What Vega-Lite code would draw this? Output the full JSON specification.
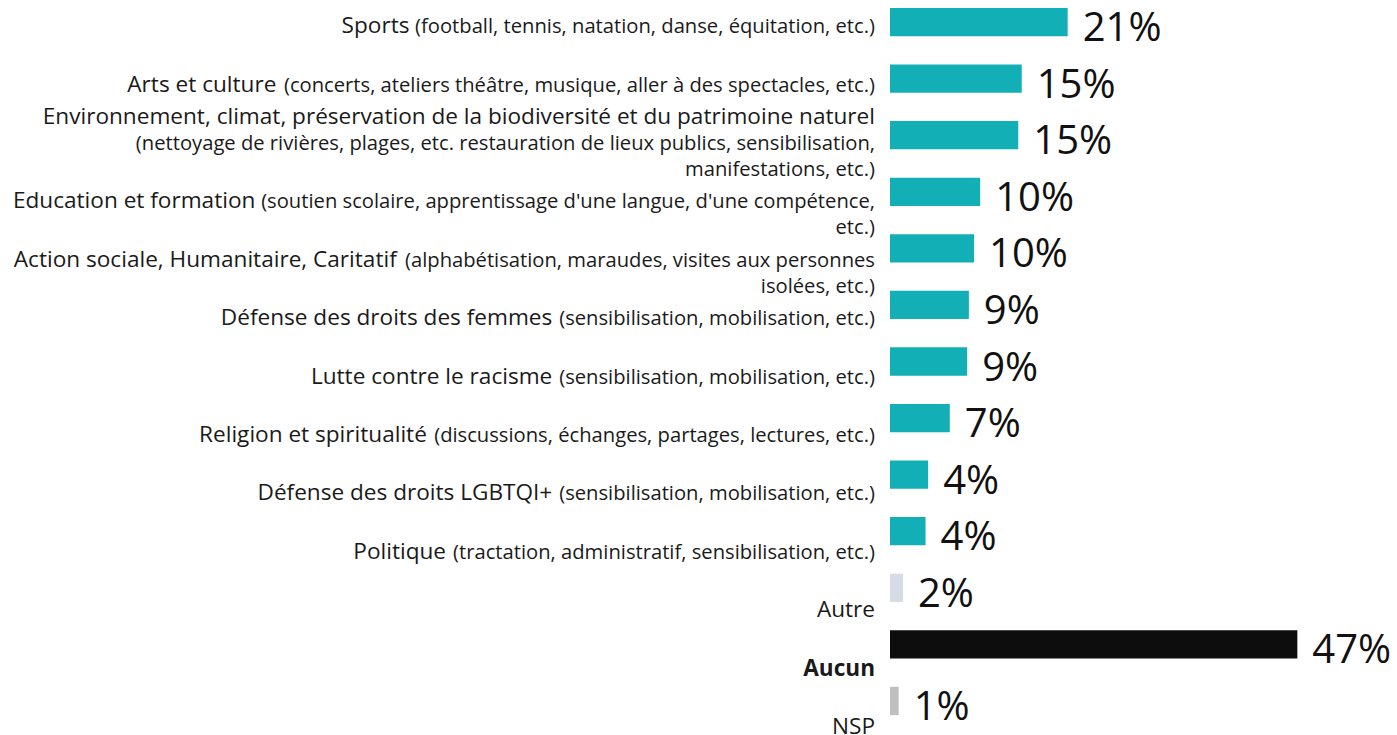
{
  "$schema": "https://vega.github.io/schema/vega-lite/v6.json",
  "autosize": "none",
  "width": 507,
  "height": 723,
  "padding": {"left": 890, "top": 0, "right": 0, "bottom": 12},
  "background": "white",
  "config": {"view": {"stroke": null}, "font": "Open Sans"},
  "data": {
    "values": [
      {"main": "Sports", "note": ["(football, tennis, natation, danse, équitation, etc.)"], "value": 20.5, "pct": "21%"},
      {"main": "Arts et culture", "note": ["(concerts, ateliers théâtre, musique, aller à des spectacles, etc.)"], "value": 15.2, "pct": "15%"},
      {"main": "Environnement, climat, préservation de la biodiversité et du patrimoine naturel", "note": ["(nettoyage de rivières, plages, etc. restauration de lieux publics, sensibilisation,", "manifestations, etc.)"], "value": 14.8, "pct": "15%"},
      {"main": "Education et formation", "note": ["(soutien scolaire, apprentissage d'une langue, d'une compétence,", "etc.)"], "value": 10.4, "pct": "10%"},
      {"main": "Action sociale, Humanitaire, Caritatif", "note": ["(alphabétisation, maraudes, visites aux personnes", "isolées, etc.)"], "value": 9.7, "pct": "10%"},
      {"main": "Défense des droits des femmes", "note": ["(sensibilisation, mobilisation, etc.)"], "value": 9.1, "pct": "9%"},
      {"main": "Lutte contre le racisme", "note": ["(sensibilisation, mobilisation, etc.)"], "value": 8.9, "pct": "9%"},
      {"main": "Religion et spiritualité", "note": ["(discussions, échanges, partages, lectures, etc.)"], "value": 6.9, "pct": "7%"},
      {"main": "Défense des droits LGBTQI+", "note": ["(sensibilisation, mobilisation, etc.)"], "value": 4.4, "pct": "4%"},
      {"main": "Politique", "note": ["(tractation, administratif, sensibilisation, etc.)"], "value": 4.1, "pct": "4%"},
      {"main": "Autre", "note": [], "value": 1.5, "pct": "2%"},
      {"main": "Aucun", "note": [], "value": 47.0, "pct": "47%"},
      {"main": "NSP", "note": [], "value": 1.0, "pct": "1%"}
    ]
  },
  "resolve": {"scale": {"y": "independent"}},
  "layer": [
    {
      "mark": {"type": "bar"},
      "encoding": {
        "y": {"field": "main", "type": "nominal", "sort": null, "axis": null, "scale": {"type": "band", "paddingInner": 0.5, "paddingOuter": 0.14}},
        "x": {"field": "value", "type": "quantitative", "axis": null, "scale": {"domain": [0, 58.5], "nice": false, "zero": true}},
        "color": {
          "condition": [
            {"test": "datum.main === 'Aucun'", "value": "#0D0D0D"},
            {"test": "datum.main === 'Autre'", "value": "#D6DCE5"},
            {"test": "datum.main === 'NSP'", "value": "#BFBFBF"}
          ],
          "value": "#13AFB7"
        }
      }
    },
    {
      "mark": {"type": "text", "align": "left", "baseline": "alphabetic", "dx": 15, "dy": 19, "fontSize": 40, "color": "#111111"},
      "encoding": {
        "y": {"field": "main", "type": "nominal", "sort": null, "axis": null, "scale": {"type": "band", "paddingInner": 0.5, "paddingOuter": 0.14}},
        "x": {"field": "value", "type": "quantitative", "axis": null},
        "text": {"field": "pct"}
      }
    },
    {
      "mark": {"type": "text", "align": "right", "baseline": "alphabetic", "dx": -15, "dy": 11, "fontSize": 20.2, "lineHeight": 26, "color": "#1a1a1a"},
      "encoding": {
        "y": {"field": "main", "type": "nominal", "sort": null, "axis": null, "scale": {"type": "point", "padding": 0.19, "align": 1}},
        "x": {"datum": 0, "type": "quantitative"},
        "text": {"field": "note"}
      }
    },
    {
      "mark": {
        "type": "text", "align": "right", "baseline": "alphabetic", "fontSize": 22.6, "color": "#1a1a1a",
        "fontWeight": {"expr": "datum.main === 'Aucun' ? 'bold' : 'normal'"},
        "dy": {"expr": "length(datum.main) > 50 ? -15 : 11"},
        "dx": {"expr": "(length(datum.main) > 50 || !datum.note[0]) ? -15 : -(24 + 20.2 * (0.58 * length(datum.note[0]) - 0.32 * length(replace(datum.note[0], regexp(\"[^ijl.,'() ]\", \"g\"), \"\")) - 0.22 * length(replace(datum.note[0], regexp(\"[^frt]\", \"g\"), \"\")) - 0.1 * length(replace(datum.note[0], regexp(\"[^scz]\", \"g\"), \"\")) + 0.35 * length(replace(datum.note[0], regexp(\"[^m]\", \"g\"), \"\")) + 0.2 * length(replace(datum.note[0], regexp(\"[^w]\", \"g\"), \"\"))))"}
      },
      "encoding": {
        "y": {"field": "main", "type": "nominal", "sort": null, "axis": null, "scale": {"type": "point", "padding": 0.19, "align": 1}},
        "x": {"datum": 0, "type": "quantitative"},
        "text": {"field": "main"}
      }
    }
  ]
}
